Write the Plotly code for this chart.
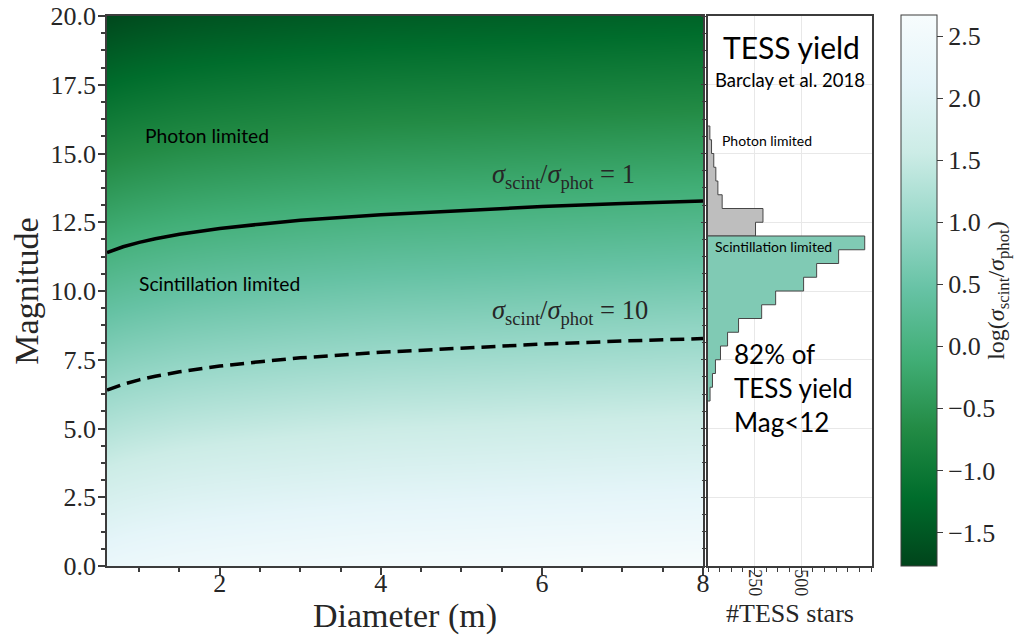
import plotly.graph_objects as go

# ---------------- data ----------------
# heatmap: log(sigma_scint / sigma_phot) read from the colour field
diam_grid = [0.6, 0.8, 1.0, 1.5, 2.0, 3.0, 4.0, 6.0, 8.0]
mag_grid = [0, 5, 10, 15, 20]
logratio_mag0 = [2.28, 2.32, 2.35, 2.41, 2.45, 2.51, 2.56, 2.61, 2.66]
logratio_mag5 = [1.28, 1.32, 1.35, 1.41, 1.45, 1.51, 1.56, 1.61, 1.66]
logratio_mag10 = [0.28, 0.32, 0.35, 0.41, 0.45, 0.51, 0.56, 0.61, 0.66]
logratio_mag15 = [-0.72, -0.68, -0.65, -0.59, -0.55, -0.49, -0.44, -0.39, -0.34]
logratio_mag20 = [-1.72, -1.68, -1.65, -1.59, -1.55, -1.49, -1.44, -1.39, -1.34]

# contour lines
line_diam = [0.6, 0.8, 1.0, 1.2, 1.5, 2.0, 2.5, 3.0, 4.0, 5.0, 6.0, 7.0, 8.0]
mag_ratio1 = [11.40, 11.61, 11.77, 11.90, 12.06, 12.27, 12.43, 12.57, 12.77, 12.93, 13.07, 13.18, 13.27]
mag_ratio10 = [6.40, 6.61, 6.77, 6.90, 7.06, 7.27, 7.43, 7.57, 7.77, 7.93, 8.07, 8.18, 8.27]

# TESS yield histogram (0.5 mag bins, lower edges)
scint_bin_lo = [6.0, 6.5, 7.0, 7.5, 8.0, 8.5, 9.0, 9.5, 10.0, 10.5, 11.0, 11.5]
scint_counts = [11, 24, 40, 67, 105, 164, 288, 363, 513, 583, 701, 841]
phot_bin_lo = [12.0, 12.5, 13.0, 13.5, 14.0, 14.5, 15.0, 15.5]
phot_counts = [255, 295, 76, 53, 42, 31, 19, 10]
bin_width = 0.5

cbar_ticks = [-1.5, -1.0, -0.5, 0.0, 0.5, 1.0, 1.5, 2.0, 2.5]
z_min, z_max = -1.77, 2.67

# ---------------- page geometry (page has an 8px body margin) ----------------
OFF = 8
W, H = 1015, 627


def fx(px):
    return (px - OFF) / W


def fy(py):
    return 1 - (py - OFF) / H


SERIF = "Liberation Serif"
SANS = "Lato"
TXT = "rgb(38,38,38)"
SPINE = "rgb(60,60,60)"
GRID = "rgb(232,232,232)"

bugn_r = [
    [0.0, "rgb(0,68,27)"], [0.125, "rgb(0,109,44)"], [0.25, "rgb(35,139,69)"],
    [0.375, "rgb(65,174,118)"], [0.5, "rgb(102,194,164)"], [0.625, "rgb(153,216,201)"],
    [0.75, "rgb(204,236,230)"], [0.875, "rgb(229,245,249)"], [1.0, "rgb(247,252,253)"],
]

fig = go.Figure()

z_grid = [logratio_mag0, logratio_mag5, logratio_mag10, logratio_mag15, logratio_mag20]
fig.add_trace(go.Heatmap(
    x=diam_grid, y=mag_grid, z=z_grid, zsmooth="best",
    colorscale=bugn_r, zmin=z_min, zmax=z_max, xaxis="x", yaxis="y",
    showscale=True,
    colorbar=dict(
        x=fx(901), xanchor="left", xref="paper", xpad=0,
        y=fy(290.5), yanchor="middle", yref="paper", ypad=0,
        len=551, lenmode="pixels", thickness=36, thicknessmode="pixels",
        outlinecolor=SPINE, outlinewidth=1,
        tickvals=cbar_ticks, tickformat=".1f", ticks="outside", ticklen=6,
        tickcolor=SPINE, tickfont=dict(family=SERIF, size=26, color=TXT),
        title=dict(text="log(<i>σ</i><sub>scint</sub>/<i>σ</i><sub>phot</sub>)",
                   side="right", font=dict(family=SERIF, size=24, color=TXT)),
    ),
    hoverinfo="skip",
))

fig.add_trace(go.Scatter(x=line_diam, y=mag_ratio1, mode="lines",
                         line=dict(color="black", width=3.5), xaxis="x", yaxis="y",
                         showlegend=False))
fig.add_trace(go.Scatter(x=line_diam, y=mag_ratio10, mode="lines",
                         line=dict(color="black", width=3.5, dash="14px,7px"),
                         xaxis="x", yaxis="y", showlegend=False))


def stairs(lo, counts):
    xs = [0] + list(counts) + [0]
    ys = [lo[0]] + list(lo) + [lo[-1] + bin_width]
    return xs, ys


sx, sy = stairs(scint_bin_lo, scint_counts)
px_, py_ = stairs(phot_bin_lo, phot_counts)
fig.add_trace(go.Scatter(x=px_, y=py_, mode="lines", line_shape="vh",
                         fill="tozerox", fillcolor="rgb(190,190,190)",
                         line=dict(color="rgb(70,70,70)", width=1),
                         xaxis="x2", yaxis="y2", showlegend=False))
fig.add_trace(go.Scatter(x=sx, y=sy, mode="lines", line_shape="vh",
                         fill="tozerox", fillcolor="rgb(128,202,180)",
                         line=dict(color="rgb(70,70,70)", width=1),
                         xaxis="x2", yaxis="y2", showlegend=False))

y_dom = [fy(566), fy(16)]
mag_ticks = [0, 2.5, 5, 7.5, 10, 12.5, 15, 17.5, 20]

fig.update_layout(
    width=W, height=H,
    margin=dict(l=0, r=0, t=0, b=0),
    paper_bgcolor="white", plot_bgcolor="white",
    showlegend=False,
    xaxis=dict(
        domain=[fx(107), fx(703)], range=[0.6, 8.0],
        tickvals=[2, 4, 6, 8], ticks="outside", ticklen=7, tickwidth=1.5, tickcolor=SPINE,
        ticklabelstandoff=-14, ticklabeloverflow="allow",
        minor=dict(dtick=0.5, tick0=0, ticks="outside", ticklen=4, tickcolor=SPINE, showgrid=False),
        showline=True, linecolor=SPINE, linewidth=1.5, mirror=True,
        showgrid=False, zeroline=False,
        tickfont=dict(family=SERIF, size=26, color=TXT),
        title=dict(text="Diameter (m)", font=dict(family=SERIF, size=34, color=TXT), standoff=23),
        automargin=False,
    ),
    yaxis=dict(
        domain=y_dom, range=[0, 20],
        tickvals=mag_ticks, tickformat=".1f",
        ticks="outside", ticklen=7, tickwidth=1.5, tickcolor=SPINE,
        ticklabelstandoff=-3, ticklabeloverflow="allow",
        minor=dict(dtick=0.625, tick0=0, ticks="outside", ticklen=4, tickcolor=SPINE, showgrid=False),
        showline=True, linecolor=SPINE, linewidth=1.5, mirror=True,
        showgrid=False, zeroline=False,
        tickfont=dict(family=SERIF, size=26, color=TXT),
        title=dict(text="Magnitude", font=dict(family=SERIF, size=34, color=TXT), standoff=5),
        automargin=False,
    ),
    xaxis2=dict(
        domain=[fx(708), fx(872)], range=[0, 880], anchor="y2",
        tickvals=[250, 500], ticks="outside", ticklen=6, tickwidth=1.2, tickcolor=SPINE,
        tickangle=90, ticklabelstandoff=-8, ticklabeloverflow="allow",
        minor=dict(dtick=62.5, tick0=0, ticks="outside", ticklen=4, tickcolor=SPINE, showgrid=False),
        showline=True, linecolor=SPINE, linewidth=1.5, mirror=True,
        showgrid=True, gridcolor=GRID, gridwidth=1, zeroline=False,
        tickfont=dict(family=SERIF, size=18, color=TXT),
        title=dict(text="#TESS stars", font=dict(family=SERIF, size=26, color=TXT), standoff=8),
        automargin=False,
    ),
    yaxis2=dict(
        domain=y_dom, range=[0, 20], anchor="x2",
        tickvals=mag_ticks, showticklabels=False,
        ticks="outside", ticklen=5, tickwidth=1.2, tickcolor=SPINE,
        minor=dict(dtick=0.625, tick0=0, ticks="outside", ticklen=4, tickcolor=SPINE, showgrid=False),
        showline=True, linecolor=SPINE, linewidth=1.5, mirror=True,
        showgrid=True, gridcolor=GRID, gridwidth=1, zeroline=False,
        automargin=False,
    ),
)

ann = []
# main-panel labels
ann.append(dict(x=1.05, y=15.67, xref="x", yref="y", xanchor="left", yanchor="middle",
                text="Photon limited", showarrow=False,
                font=dict(family=SANS, size=19.3, color="black")))
ann.append(dict(x=0.97, y=10.29, xref="x", yref="y", xanchor="left", yanchor="middle",
                text="Scintillation limited", showarrow=False,
                font=dict(family=SANS, size=19.3, color="black")))
ann.append(dict(x=5.35, y=14.2, xref="x", yref="y", xanchor="left", yanchor="middle",
                text="<i>σ</i><sub>scint</sub>/<i>σ</i><sub>phot</sub> = 1", showarrow=False,
                font=dict(family=SERIF, size=26.5, color=TXT)))
ann.append(dict(x=5.35, y=9.24, xref="x", yref="y", xanchor="left", yanchor="middle",
                text="<i>σ</i><sub>scint</sub>/<i>σ</i><sub>phot</sub> = 10", showarrow=False,
                font=dict(family=SERIF, size=26.5, color=TXT)))
# histogram-panel labels
ann.append(dict(x=fx(791), y=fy(47), xref="paper", yref="paper",
                xanchor="center", yanchor="middle", text="TESS yield", showarrow=False,
                font=dict(family=SANS, size=30, color="black")))
ann.append(dict(x=fx(790), y=fy(80), xref="paper", yref="paper",
                xanchor="center", yanchor="middle", text="Barclay et al. 2018", showarrow=False,
                font=dict(family=SANS, size=18.5, color="black")))
ann.append(dict(x=fx(720), y=fy(140), xref="paper", yref="paper",
                xanchor="left", yanchor="middle", text="Photon limited", showarrow=False,
                font=dict(family=SANS, size=14, color="black")))
ann.append(dict(x=fx(713), y=fy(246), xref="paper", yref="paper",
                xanchor="left", yanchor="middle", text="Scintillation limited", showarrow=False,
                font=dict(family=SANS, size=14, color="black")))
ann.append(dict(x=fx(732), y=fy(388), xref="paper", yref="paper",
                xanchor="left", yanchor="middle", align="left",
                text="82% of<br>TESS yield<br>Mag&lt;12", showarrow=False,
                font=dict(family=SANS, size=26, color="black")))
fig.update_layout(annotations=ann)

fig.write_html("out.html")
